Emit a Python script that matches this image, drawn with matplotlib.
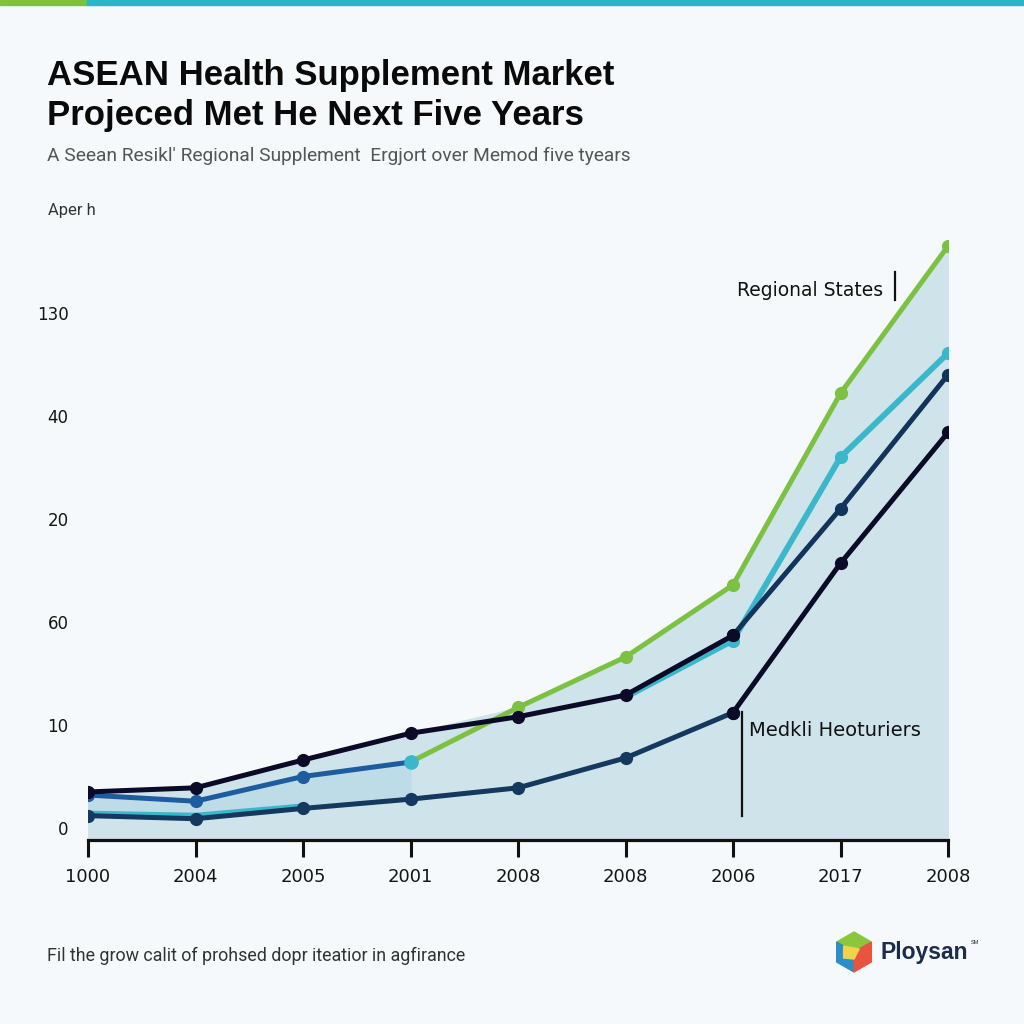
import numpy as np
import matplotlib.pyplot as plt
from matplotlib.patches import Polygon, Rectangle

plt.rcParams['font.family'] = ['Liberation Sans', 'DejaVu Sans']

# data
x_labels = ['1000', '2004', '2005', '2001', '2008', '2008', '2006', '2017', '2008']
y_ticks = [0, 1, 2, 3, 4, 5]
y_labels = ['0', '10', '60', '20', '40', '130']
nan = np.nan
green = [nan, nan, nan, 0.64, 1.17, 1.66, 2.36, 4.22, 5.65]
cyan = [0.14, 0.12, 0.21, nan, nan, 1.27, 1.82, 3.60, 4.61]
blue = [0.32, 0.26, 0.50, 0.64, nan, nan, nan, nan, nan]
black_up = [0.35, 0.39, 0.66, 0.92, 1.08, 1.29, 1.87, nan, nan]
navy_up = [nan, nan, nan, nan, nan, nan, 1.87, 3.10, 4.40]
navy_low = [0.12, 0.09, 0.19, 0.28, 0.39, 0.68, 1.12, nan, nan]
black_low = [nan, nan, nan, nan, nan, nan, 1.12, 2.57, 3.84]

bg = '#f6f9fb'
fig = plt.figure(figsize=(10.24, 10.24), dpi=100, facecolor=bg)
ax = fig.add_axes([88/1024, 1-840/1024, 860/1024, 610/1024])
ax.set_facecolor(bg)
x = np.arange(len(x_labels))

# shaded area under the top envelope
env = np.nanmax(np.array([green, cyan, blue, black_up, navy_up, navy_low, black_low]), axis=0)
ylo = -0.1165
ax.fill_between(x, ylo, env, color='#cfe3ea', zorder=1)
ax.fill_between(x[:4], np.array(navy_low[:4]), np.array(blue[:4]), color='#bddce7', zorder=1)

lw, ms = 3.6, 8.5
ax.plot(x, cyan, color='#3bb7cc', lw=lw + 0.6, marker='o', ms=ms, markevery=[6, 7, 8], zorder=3)
ax.plot(x, navy_low, color='#14385e', lw=lw, marker='o', ms=ms, zorder=4)
ax.plot(x, blue, color='#1d5c9e', lw=lw, marker='o', ms=ms, zorder=4)
ax.plot(x[3], blue[3], 'o', color='#3bb7cc', ms=ms + 1, zorder=5)
ax.plot(x, green, color='#7cc142', lw=lw, marker='o', ms=ms, zorder=4)
ax.plot(x, black_up, color='#0b0b28', lw=lw, marker='o', ms=ms, zorder=6)
ax.plot(x, navy_up, color='#13345a', lw=lw, marker='o', ms=ms, zorder=5)
ax.plot(x, black_low, color='#0b0b28', lw=lw, marker='o', ms=ms, zorder=5)

ax.set_xlim(0, 8)
ax.set_ylim(ylo, (828-230)/103)
for s in ['top', 'right', 'left']:
    ax.spines[s].set_visible(False)
ax.spines['bottom'].set_linewidth(2.3)
ax.spines['bottom'].set_color('#111111')
ax.set_xticks(x)
ax.set_xticklabels(x_labels, fontsize=13, color='#151515', family=['DejaVu Sans'])
ax.tick_params(axis='x', length=12, width=2.2, color='#111111', pad=8)
ax.set_yticks(y_ticks)
ax.set_yticklabels(y_labels, fontsize=12, color='#151515', family=['DejaVu Sans'])
ax.tick_params(axis='y', length=0, pad=14)

# annotations
ax.text(7.40, (828-290)/103, 'Regional States', fontsize=13.5, ha='right', va='center',
        color='#111111', family=['DejaVu Sans'], zorder=7)
ax.plot([7.51, 7.51], [(828-272)/103, (828-300)/103], color='#111111', lw=1.6, zorder=7)
ax.text(6.15, (828-730)/103, 'Medkli Heoturiers', fontsize=14, ha='left', va='center',
        color='#111111', family=['DejaVu Sans'], zorder=7)
ax.plot([6.08, 6.08], [(828-712)/103, (828-816)/103], color='#111111', lw=1.6, zorder=7)

# header
fig.add_artist(Rectangle((0, 1-5/1024), 87/1024, 5/1024, color='#7cc142', transform=fig.transFigure))
fig.add_artist(Rectangle((87/1024, 1-5/1024), 1, 5/1024, color='#2bb5c6', transform=fig.transFigure))
fig.text(47/1024, 1-76/1024, 'ASEAN Health Supplement Market', fontsize=25, weight='bold',
         color='#0a0a0a', va='center')
fig.text(47/1024, 1-115/1024, 'Projeced Met He Next Five Years', fontsize=25, weight='bold',
         color='#0a0a0a', va='center')
fig.text(47/1024, 1-156/1024, "A Seean Resikl' Regional Supplement  Ergjort over Memod five tyears",
         fontsize=13.8, color='#555555', va='center', family=['Roboto', 'DejaVu Sans'])
fig.text(48/1024, 1-211/1024, 'Aper h', fontsize=12, color='#333333', va='center',
         family=['Roboto', 'DejaVu Sans'])

# footer
fig.text(47/1024, 1-956/1024, 'Fil the grow calit of prohsed dopr iteatior in agfirance',
         fontsize=12.9, color='#333333', va='center', family=['Roboto', 'DejaVu Sans'])
fig.text(881/1024, 1-953/1024, 'Ploysan', fontsize=16.5, weight='bold', color='#1b2d4a', va='center')
fig.text(971/1024, 1-943/1024, 'SM', fontsize=4, color='#1b2d4a', va='center')

# simple cube logo
cx, cy, r = 854/1024, 1-952/1024, 20/1024
def pt(a, k=1.0):
    return (cx + k*r*np.cos(np.radians(a)), cy + k*r*np.sin(np.radians(a)))
c = (cx, cy)
faces = [([pt(90), pt(150), c, pt(30)], '#8cc63f'),
         ([pt(150), pt(210), pt(270), c], '#2a8fc9'),
         ([pt(30), c, pt(270), pt(330)], '#e8543e')]
for verts, col in faces:
    fig.add_artist(Polygon(verts, closed=True, color=col, transform=fig.transFigure))
fig.add_artist(Polygon([pt(150, 0.6), pt(210, 0.6), (cx, cy-0.35*r), pt(30, 0.3)], closed=True,
                       color='#f2d24a', transform=fig.transFigure))

fig.savefig('out.png', dpi=100, facecolor=bg)
